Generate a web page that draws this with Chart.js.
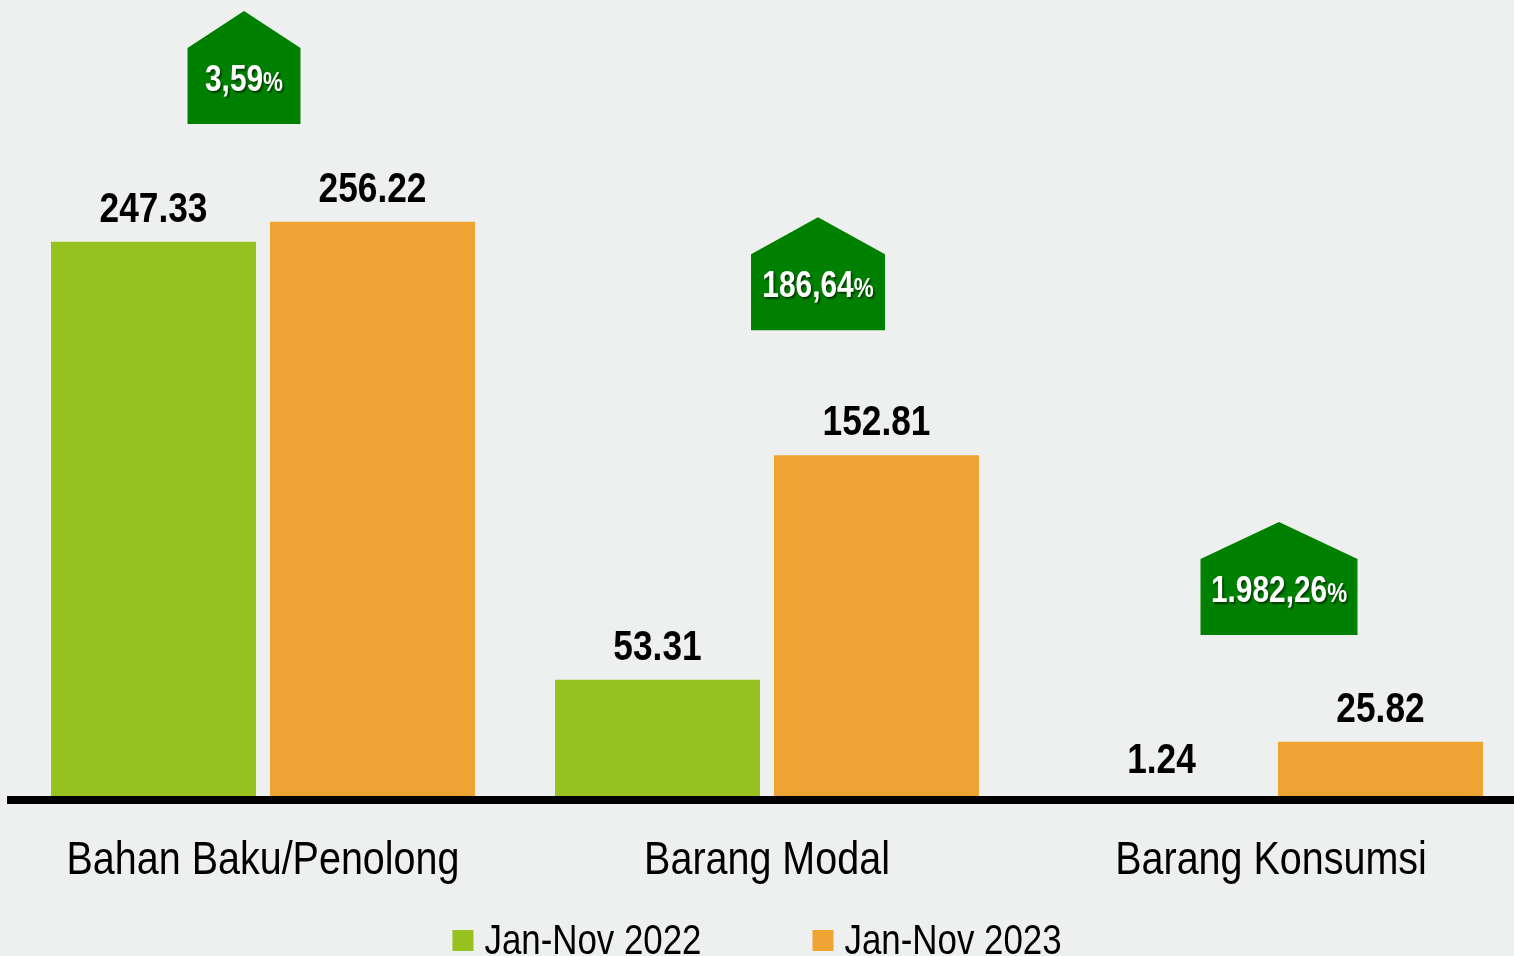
<!DOCTYPE html>
<html><head><meta charset="utf-8">
<script src="https://cdn.jsdelivr.net/npm/chart.js@4.4.1/dist/chart.umd.min.js"></script>
<style>
html,body{margin:0;padding:0;background:#EEF0EF;overflow:hidden;width:1514px;height:956px}
#wrap{position:absolute;left:0;top:0;width:1530px;height:956px}
canvas{display:block}
</style></head>
<body><div id="wrap"><canvas id="c" width="1530" height="956"></canvas></div>
<script>
// ---- data ----
const categories = ["Bahan Baku/Penolong", "Barang Modal", "Barang Konsumsi"];
const seriesLabels = ["Jan-Nov 2022", "Jan-Nov 2023"];
const series2022 = [247.33, 53.31, 1.24];
const series2023 = [256.22, 152.81, 25.82];
const growthPct = ["3,59", "186,64", "1.982,26"];

// ---- layout / style (not data) ----
const FONT = '"Liberation Sans", Arial, sans-serif';
const colors = ["#96C11F", "#EEA332"];
const badgeLayout = [
  {dx: -19, bottomValue: 299.5, width: 113},
  {dx: 51,  bottomValue: 208.2, width: 134},
  {dx: 8,   bottomValue: 73.1,  width: 157}
];

// emulate Arial Narrow by horizontal condensing of Liberation Sans
function narrowWidth(ctx, text, f) { return ctx.measureText(text).width * f; }
function fillNarrow(ctx, text, x, y, f) { ctx.fillText(text, x, y, narrowWidth(ctx, text, f)); }

const catLabels = {
  id: 'catLabels',
  afterDraw(chart) {
    const ctx = chart.ctx, xs = chart.scales.x;
    ctx.save();
    ctx.font = '47px ' + FONT;
    ctx.fillStyle = '#000';
    ctx.textAlign = 'center';
    ctx.textBaseline = 'alphabetic';
    xs.ticks.forEach((t, i) => {
      fillNarrow(ctx, xs.getLabelForValue(t.value), xs.getPixelForTick(i), chart.chartArea.bottom + 74, 0.84);
    });
    ctx.restore();
  }
};

const valueLabels = {
  id: 'valueLabels',
  afterDatasetsDraw(chart) {
    const ctx = chart.ctx;
    ctx.save();
    ctx.font = 'bold 42px ' + FONT;
    ctx.fillStyle = '#000';
    ctx.textAlign = 'center';
    ctx.textBaseline = 'alphabetic';
    chart.data.datasets.forEach((ds, di) => {
      const meta = chart.getDatasetMeta(di);
      meta.data.forEach((el, i) => {
        fillNarrow(ctx, ds.data[i].toFixed(2), el.x, Math.min(el.y, 793) - 20, 0.84);
      });
    });
    ctx.restore();
  }
};

const badges = {
  id: 'badges',
  afterDraw(chart) {
    const ctx = chart.ctx;
    const xs = chart.scales.x, ys = chart.scales.y;
    ctx.save();
    growthPct.forEach((g, i) => {
      const L = badgeLayout[i];
      const cx = xs.getPixelForValue(i) + L.dx;
      const yb = ys.getPixelForValue(L.bottomValue);
      const w = L.width;
      ctx.fillStyle = '#008000';
      ctx.beginPath();
      ctx.moveTo(cx - w / 2, yb);
      ctx.lineTo(cx - w / 2, yb - 76);
      ctx.lineTo(cx, yb - 113);
      ctx.lineTo(cx + w / 2, yb - 76);
      ctx.lineTo(cx + w / 2, yb);
      ctx.closePath();
      ctx.fill();
      const fBig = 'bold 36px ' + FONT, fSmall = 'bold 27px ' + FONT;
      ctx.font = fBig; const w1 = narrowWidth(ctx, g, 0.83);
      ctx.font = fSmall; const w2 = narrowWidth(ctx, '%', 0.83);
      const x0 = cx - (w1 + w2) / 2;
      const base = yb - 33;
      ctx.shadowColor = 'rgba(0,0,0,0.55)';
      ctx.shadowOffsetX = 1.5; ctx.shadowOffsetY = 1.5; ctx.shadowBlur = 2;
      ctx.fillStyle = '#fff';
      ctx.textAlign = 'left'; ctx.textBaseline = 'alphabetic';
      ctx.font = fBig; ctx.fillText(g, x0, base, w1);
      ctx.font = fSmall; ctx.fillText('%', x0 + w1, base, w2);
      ctx.shadowColor = 'transparent';
    });
    ctx.restore();
  }
};

const customLegend = {
  id: 'customLegend',
  afterDraw(chart) {
    const ctx = chart.ctx;
    ctx.save();
    ctx.font = '42px ' + FONT;
    const box = 21, gapBT = 11, gapItems = 111;
    const items = chart.data.datasets.map(d => ({label: d.label, color: d.backgroundColor, tw: narrowWidth(ctx, d.label, 0.83)}));
    let total = 0;
    items.forEach((it, k) => { total += box + gapBT + it.tw + (k < items.length - 1 ? gapItems : 0); });
    let x = 757 - total / 2;
    const base = 954;
    items.forEach(it => {
      ctx.fillStyle = it.color;
      ctx.fillRect(x, base - 24, box, box);
      ctx.fillStyle = '#000';
      ctx.textAlign = 'left'; ctx.textBaseline = 'alphabetic';
      ctx.fillText(it.label, x + box + gapBT, base, it.tw);
      x += box + gapBT + it.tw + gapItems;
    });
    ctx.restore();
  }
};

new Chart(document.getElementById('c').getContext('2d'), {
  type: 'bar',
  data: {
    labels: categories,
    datasets: [
      {label: seriesLabels[0], data: series2022, backgroundColor: colors[0]},
      {label: seriesLabels[1], data: series2023, backgroundColor: colors[1]}
    ]
  },
  options: {
    responsive: false,
    animation: false,
    layout: {padding: {left: 11, right: 7, top: 0, bottom: 0}},
    datasets: {bar: {categoryPercentage: 0.869, barPercentage: 0.936}},
    plugins: {legend: {display: false}, tooltip: {enabled: false}},
    scales: {
      x: {
        z: 1,
        grid: {display: false, drawTicks: false},
        border: {display: true, color: '#000', width: 8, z: 1},
        ticks: {display: false},
        afterFit(s) { s.height = 156; }
      },
      y: {display: false, min: 0, max: 354.5}
    }
  },
  plugins: [valueLabels, badges, catLabels, customLegend]
});
</script>
</body></html>
